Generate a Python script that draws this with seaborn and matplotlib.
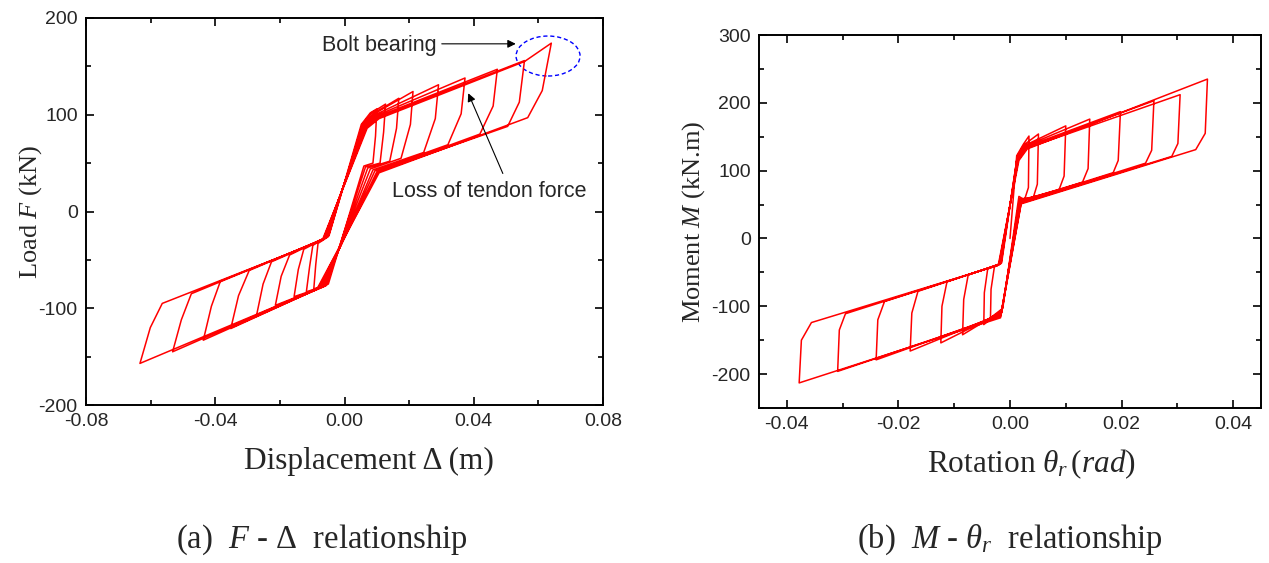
import numpy as np
import pandas as pd
import matplotlib
matplotlib.use("Agg")
import matplotlib.pyplot as plt
from matplotlib.patches import Ellipse
from matplotlib.ticker import MultipleLocator, FormatStrFormatter
import seaborn as sns

# ---------------- data: (a) F - Delta hysteresis (9 cycles) ----------------
L_start_x = [-0.0048]
L_start_y = [-25]
L_rise_x = [0.0052, 0.0055, 0.0058, 0.0060, 0.0062, 0.0064, 0.0066, 0.0068, 0.0070]
L_rise_y = [90, 90, 89, 89, 88, 88, 87, 87, 86]
L_up_knee_x = [0.0080, 0.0084, 0.0088, 0.0092, 0.0095, 0.0098, 0.0101, 0.0104, 0.0107]
L_up_knee_y = [102, 102, 101, 101, 100, 99, 98, 97, 96]
L_pos_peak_x = [0.0100, 0.0127, 0.0168, 0.0212, 0.0291, 0.0373, 0.0473, 0.0557, 0.0640]
L_pos_peak_y = [106, 111, 117, 124, 131, 138, 147, 156, 174]
L_pos_bend_x = [0.0096, 0.0121, 0.0161, 0.0204, 0.0281, 0.0361, 0.0460, 0.0541, 0.0612]
L_pos_bend_y = [78, 82, 86, 90, 96, 101, 109, 113, 125]
L_pos_end_x = [0.0088, 0.0110, 0.0140, 0.0175, 0.0245, 0.0320, 0.0419, 0.0505, 0.0567]
L_pos_end_y = [50, 50, 52, 55, 61, 69, 80, 88, 97]
L_low_knee_x = [0.0060, 0.0065, 0.0072, 0.0080, 0.0088, 0.0094, 0.0100, 0.0104, 0.0107]
L_low_knee_y = [47, 46, 45, 44, 43, 42, 41, 41, 40]
L_neg_knee_x = [-0.0050, -0.0055, -0.0058, -0.0062, -0.0066, -0.0070, -0.0075, -0.0080, -0.0085]
L_neg_knee_y = [-75, -76, -77, -77, -78, -78, -79, -79, -80]
L_neg_peak_x = [-0.0095, -0.0118, -0.0156, -0.0214, -0.0272, -0.0352, -0.0437, -0.0532, -0.0633]
L_neg_peak_y = [-80, -83, -88, -97, -107, -121, -133, -145, -157]
L_neg_bend_x = [-0.0089, -0.0108, -0.0143, -0.0196, -0.0252, -0.0328, -0.0412, -0.0505, -0.0601]
L_neg_bend_y = [-55, -57, -60, -67, -75, -87, -98, -112, -120]
L_neg_top_x = [-0.0082, -0.0098, -0.0126, -0.0170, -0.0226, -0.0295, -0.0384, -0.0474, -0.0564]
L_neg_top_y = [-33, -35, -39, -45, -52, -61, -72, -85, -95]
L_neg_uknee_x = [-0.0050, -0.0054, -0.0057, -0.0060, -0.0062, -0.0064, -0.0066, -0.0068, -0.0070]
L_neg_uknee_y = [-26, -26, -27, -27, -28, -28, -29, -29, -30]
L_bearing_x = [0.0557]   # start of bolt bearing on last cycle
L_bearing_y = [155]

# ---------------- data: (b) M - theta_r hysteresis (8 cycles) ----------------
R_start_x = [0.0]
R_start_y = [0.0]
R_rise_x = [0.0012, 0.0013, 0.0013, 0.0014, 0.0014, 0.0015, 0.0015, 0.0016]
R_rise_y = [122, 121, 120, 119, 118, 117, 116, 115]
R_up_knee_x = [0.0024, 0.0025, 0.0026, 0.0027, 0.0028, 0.0029, 0.0030, 0.0031]
R_up_knee_y = [139, 138, 137, 136, 135, 134, 133, 132]
R_pos_peak_x = [0.0034, 0.0051, 0.0100, 0.0143, 0.0198, 0.0258, 0.0305, 0.0354]
R_pos_peak_y = [151, 154, 166, 176, 187, 203, 212, 235]
R_pos_bend_x = [0.0033, 0.0049, 0.0097, 0.0140, 0.0194, 0.0254, 0.0301, 0.0350]
R_pos_bend_y = [75, 80, 92, 103, 115, 130, 140, 155]
R_pos_end_x = [0.0026, 0.0042, 0.0088, 0.0130, 0.0185, 0.0243, 0.0290, 0.0333]
R_pos_end_y = [57, 61, 72, 83, 97, 111, 121, 131]
R_low_knee_x = [0.0016, 0.0017, 0.0018, 0.0018, 0.0019, 0.0019, 0.0020, 0.0020]
R_low_knee_y = [62, 58, 56, 55, 54, 53, 52, 51]
R_neg_knee_x = [-0.0013, -0.0014, -0.0015, -0.0015, -0.0016, -0.0016, -0.0017, -0.0017]
R_neg_knee_y = [-103, -105, -107, -109, -111, -113, -115, -117]
R_neg_peak_x = [-0.0035, -0.0047, -0.0085, -0.0124, -0.0179, -0.0240, -0.0309, -0.0378]
R_neg_peak_y = [-117, -127, -142, -154, -166, -179, -196, -213]
R_neg_bend_x = [-0.0034, -0.0046, -0.0083, -0.0122, -0.0176, -0.0237, -0.0306, -0.0374]
R_neg_bend_y = [-75, -80, -90, -100, -110, -120, -135, -150]
R_neg_top_x = [-0.0028, -0.0040, -0.0075, -0.0113, -0.0165, -0.0225, -0.0295, -0.0356]
R_neg_top_y = [-42, -45, -54, -64, -78, -93, -111, -124]
R_neg_uknee_x = [-0.0015, -0.0016, -0.0017, -0.0018, -0.0019, -0.0020, -0.0021, -0.0022]
R_neg_uknee_y = [-36, -37, -37, -38, -38, -39, -39, -40]

# tick labels
L_xticks = [-0.08, -0.04, 0.00, 0.04, 0.08]
L_yticks = [-200, -100, 0, 100, 200]
R_xticks = [-0.04, -0.02, 0.00, 0.02, 0.04]
R_yticks = [-200, -100, 0, 100, 200, 300]


def build_path(start, groups, extra_before=None, extra_group=2):
    xs, ys = list(start[0]), list(start[1])
    n = len(groups[0][0])
    for k in range(n):
        for gi, (gx, gy) in enumerate(groups):
            if extra_before is not None and gi == extra_group and k == n - 1:
                xs.extend(extra_before[0])
                ys.extend(extra_before[1])
            xs.append(gx[k])
            ys.append(gy[k])
    return pd.DataFrame({"x": xs, "y": ys, "order": np.arange(len(xs))})


left_df = build_path((L_start_x, L_start_y), [
    (L_rise_x, L_rise_y), (L_up_knee_x, L_up_knee_y), (L_pos_peak_x, L_pos_peak_y),
    (L_pos_bend_x, L_pos_bend_y), (L_pos_end_x, L_pos_end_y),
    (L_low_knee_x, L_low_knee_y), (L_neg_knee_x, L_neg_knee_y),
    (L_neg_peak_x, L_neg_peak_y), (L_neg_bend_x, L_neg_bend_y),
    (L_neg_top_x, L_neg_top_y), (L_neg_uknee_x, L_neg_uknee_y)],
    extra_before=(L_bearing_x, L_bearing_y), extra_group=2)

right_df = build_path((R_start_x, R_start_y), [
    (R_rise_x, R_rise_y), (R_up_knee_x, R_up_knee_y), (R_pos_peak_x, R_pos_peak_y),
    (R_pos_bend_x, R_pos_bend_y), (R_pos_end_x, R_pos_end_y),
    (R_low_knee_x, R_low_knee_y), (R_neg_knee_x, R_neg_knee_y),
    (R_neg_peak_x, R_neg_peak_y), (R_neg_bend_x, R_neg_bend_y),
    (R_neg_top_x, R_neg_top_y), (R_neg_uknee_x, R_neg_uknee_y)])

# ---------------- style ----------------
sns.set_theme(style="ticks")
plt.rcParams["font.family"] = ["Liberation Sans", "DejaVu Sans"]
plt.rcParams["mathtext.fontset"] = "custom"
plt.rcParams["mathtext.rm"] = "Liberation Serif"
plt.rcParams["mathtext.it"] = "Liberation Serif:italic"
plt.rcParams["axes.unicode_minus"] = False
plt.rcParams["axes.linewidth"] = 1.4

fig = plt.figure(figsize=(12.69, 5.63), dpi=100)
axL = fig.add_axes([86 / 1269, 1 - 405 / 563, (603 - 86) / 1269, (405 - 18) / 563])
axR = fig.add_axes([759 / 1269, 1 - 408 / 563, (1261 - 759) / 1269, (408 - 35) / 563])

serif = ["Liberation Serif", "DejaVu Serif"]
YLAB = 19
XLAB = 22.5
CAP = 23.5
TICK = 14

for ax, df in ((axL, left_df), (axR, right_df)):
    sns.lineplot(data=df, x="x", y="y", sort=False, estimator=None,
                 color="#ff0000", lw=1.1, ax=ax)
    ax.tick_params(which="both", direction="in", top=True, right=True,
                   labelsize=TICK, width=1.2, color="black", pad=6)
    ax.tick_params(which="major", length=6)
    ax.tick_params(which="minor", length=3.5)
    for s in ax.spines.values():
        s.set_color("black")
        s.set_linewidth(1.4)
    ax.set_facecolor("white")

axL.set_xlim(-0.08, 0.08)
axL.set_ylim(-200, 200)
axL.set_xticks(L_xticks)
axL.set_yticks(L_yticks)
axL.xaxis.set_minor_locator(MultipleLocator(0.02))
axL.yaxis.set_minor_locator(MultipleLocator(50))
axL.xaxis.set_major_formatter(FormatStrFormatter("%.2f"))
axL.set_xlabel("Displacement Δ (m)", family=serif, fontsize=XLAB, labelpad=12)
axL.xaxis.label.set_x(0.547)
axL.set_ylabel("Load $F$ (kN)", family=serif, fontsize=YLAB, labelpad=-4)

axR.set_xlim(-0.045, 0.045)
axR.set_ylim(-250, 300)
axR.set_xticks(R_xticks)
axR.set_yticks(R_yticks)
axR.xaxis.set_minor_locator(MultipleLocator(0.01))
axR.yaxis.set_minor_locator(MultipleLocator(50))
axR.xaxis.set_major_formatter(FormatStrFormatter("%.2f"))
axR.set_xlabel(r"Rotation $\theta_r\,(rad)$", family=serif, fontsize=XLAB, labelpad=10)
axR.xaxis.label.set_x(0.542)
axR.set_ylabel("Moment $M$ (kN.m)", family=serif, fontsize=YLAB, labelpad=3)

# annotations on (a)
axL.add_patch(Ellipse((0.0630, 160.7), 0.0198, 41.3, fill=False,
                      edgecolor="#0000ff", lw=1.0, ls=(0, (3, 2))))
axL.annotate("", xy=(0.0530, 173.3), xytext=(0.0301, 173.3),
             arrowprops=dict(arrowstyle="-|>", color="black", lw=0.8,
                             mutation_scale=12, shrinkA=0, shrinkB=0))
axL.text(-0.007, 171.5, "Bolt bearing", fontsize=15.5, ha="left", va="center")
axL.annotate("", xy=(0.0383, 122.2), xytext=(0.0490, 39.3),
             arrowprops=dict(arrowstyle="-|>", color="black", lw=0.8,
                             mutation_scale=12, shrinkA=0, shrinkB=0))
axL.text(0.0148, 20.5, "Loss of tendon force", fontsize=15.5, ha="left", va="center")

# captions
fig.text(322 / 1269, 1 - 540 / 563, "(a)  $F$ - Δ  relationship", family=serif,
         fontsize=CAP, ha="center", va="center")
fig.text(1010 / 1269, 1 - 540 / 563, r"(b)  $M$ - $\theta_r$  relationship", family=serif,
         fontsize=CAP, ha="center", va="center")

fig.savefig("out.png", dpi=100, facecolor="white")
